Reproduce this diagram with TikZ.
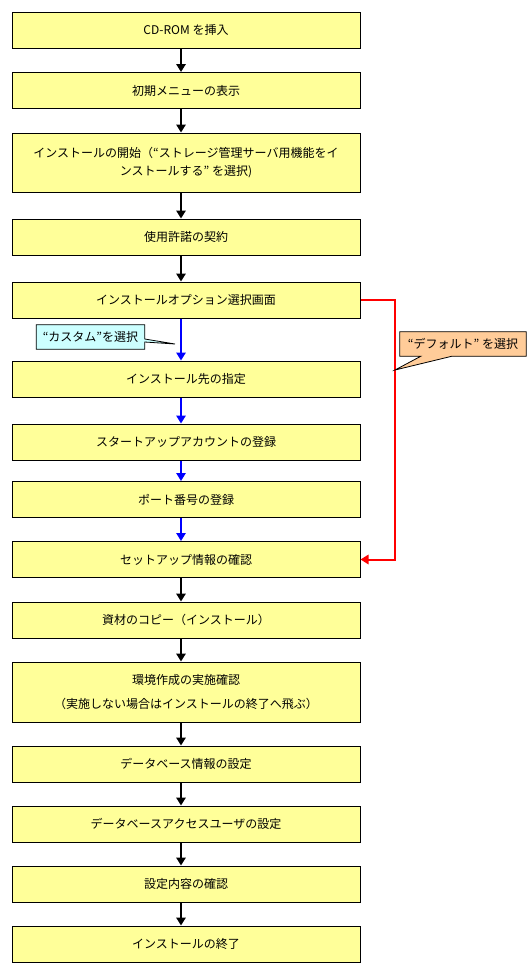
\documentclass[tikz,border=0pt]{standalone}
\usepackage{fontspec}
\usepackage{tikz}
\usetikzlibrary{arrows.meta}
\newfontfamily\jpfont{Noto Sans CJK JP}
\definecolor{stepyellow}{HTML}{FFFF99}
\definecolor{customcyan}{HTML}{CCFFFF}
\definecolor{defaultorange}{HTML}{FFCC99}

\begin{document}
\begin{tikzpicture}[x=0.75pt, y=-0.75pt,
    font=\jpfont\fontsize{9}{11}\selectfont,
    stepbox/.style={draw, line width=0.75pt, fill=stepyellow, minimum width=261pt, minimum height=27pt, inner sep=0pt},
    flow/.style={line width=2pt, -{Triangle[width=7pt,length=6pt]}},
    custom/.style={line width=2.2pt, blue, -{Triangle[width=7pt,length=6pt]}},
    customthin/.style={line width=1.3pt, blue, -{Triangle[width=7pt,length=6pt]}},
    default/.style={line width=1.5pt, red, -{Triangle[width=7pt,length=6pt]}},
    note/.style={minimum width=#1, minimum height=18pt, inner sep=0pt}]
        \useasboundingbox (0,0) rectangle (530,972);

        % Steps
        \node [stepbox] (b1) at (186,30) {CD-ROM を挿入};
        \node [stepbox] (b2) at (186,90.5) {初期メニューの表示};
        \node [stepbox, minimum height=44.25pt, align=center] (b3) at (186,162.5)
            {インストールの開始（“ストレージ管理サーバ用機能をイ\\[3pt]ンストールする” を選択)};
        \node [stepbox] (b4) at (186,237) {使用許諾の契約};
        \node [stepbox] (b5) at (186,300) {インストールオプション選択画面};
        \node [stepbox] (b6) at (186,379) {インストール先の指定};
        \node [stepbox] (b7) at (186,442) {スタートアップアカウントの登録};
        \node [stepbox] (b8) at (186,499.5) {ポート番号の登録};
        \node [stepbox] (b9) at (186,559.5) {セットアップ情報の確認};
        \node [stepbox] (b10) at (186,620) {資材のコピー（インストール）};
        \node [stepbox, minimum height=45pt, align=center] (b11) at (186,692)
            {環境作成の実施確認\\[7pt]（実施しない場合はインストールの終了へ飛ぶ）};
        \node [stepbox] (b12) at (186,764) {データベース情報の設定};
        \node [stepbox] (b13) at (186,824) {データベースアクセスユーザの設定};
        \node [stepbox] (b14) at (186,884) {設定内容の確認};
        \node [stepbox] (b15) at (186,944) {インストールの終了};

        % Arrows
        \foreach \a/\b in {1/2, 2/3, 3/4, 4/5, 9/10, 10/11, 11/12, 12/13, 13/14, 14/15}
            \draw [flow] ([xshift=-3.75pt]b\a.south) -- ([xshift=-3.75pt]b\b.north);
        \draw [custom] ([xshift=-3.75pt]b5.south) -- ([xshift=-3.75pt]b6.north);
        \draw [custom] ([xshift=-3.75pt]b6.south) -- ([xshift=-3.75pt]b7.north);
        \draw [customthin] ([xshift=-3.75pt]b7.south) -- ([xshift=-3.75pt]b8.north);
        \draw [customthin] ([xshift=-3.75pt]b8.south) -- ([xshift=-3.75pt]b9.north);
        \draw [default] (b5.east) -- ++(34,0) |- (b9.east);

        % Labels
        \coordinate (customtip) at (175,344);
        \coordinate (defaulttip) at (395,370);
        \node [note=81pt] (c1) at (90.5,337) {“カスタム”を選択};
        \draw [fill=customcyan, line width=0.6pt] (c1.north west) -- (c1.north east)
            -- ([yshift=-1.5pt]c1.east) -- (customtip) -- ([yshift=-3.75pt]c1.east)
            -- (c1.south east) -- (c1.south west) -- cycle;
        \node [note=81pt] at (c1) {“カスタム”を選択};
        \node [note=94.5pt] (c2) at (463,344) {“デフォルト” を選択};
        \draw [fill=defaultorange, line width=0.6pt] (c2.north west) -- (c2.north east)
            -- (c2.south east) -- ([xshift=39pt]c2.south west) -- (defaulttip)
            -- ([xshift=15.75pt]c2.south west) -- (c2.south west) -- cycle;
        \node [note=94.5pt] at (c2) {“デフォルト” を選択};
    \end{tikzpicture}
\end{document}
